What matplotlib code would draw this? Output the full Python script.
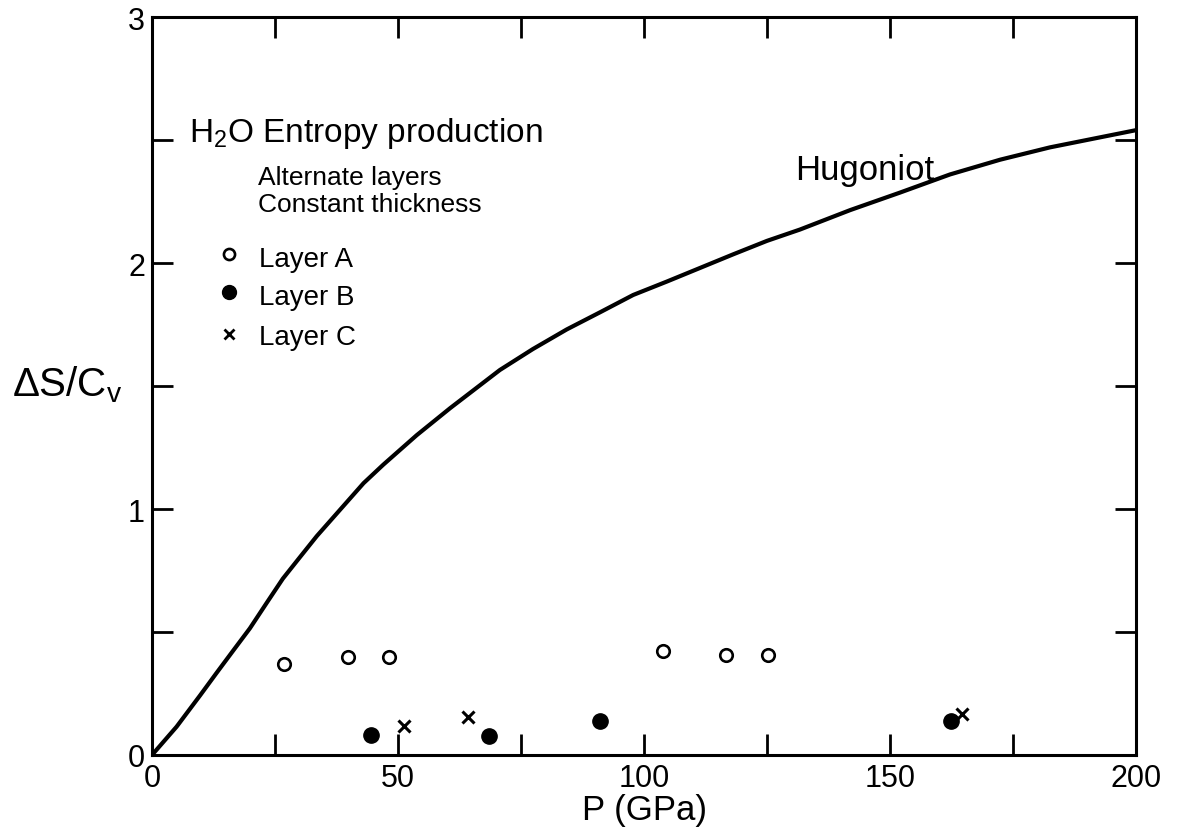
import matplotlib
matplotlib.use("Agg")
import matplotlib.pyplot as plt
from matplotlib.ticker import MultipleLocator

plt.rcParams['font.family'] = ['Liberation Sans', 'DejaVu Sans']
plt.rcParams['mathtext.default'] = 'regular'

# Hugoniot curve: entropy production vs. shock pressure
hug_P = [0, 5.0, 9.8, 13.1, 16.6, 19.9, 23.3, 26.6, 30.1, 33.5, 38.8, 43.0,
         47.0, 53.8, 60.6, 70.7, 77.4, 84.3, 91.1, 97.8, 104.7, 111.4, 118.1,
         125.0, 131.7, 141.9, 152.0, 162.2, 172.4, 182.5, 200.0]
hug_S = [0, 0.115, 0.243, 0.333, 0.427, 0.515, 0.618, 0.717, 0.805, 0.89,
         1.01, 1.105, 1.18, 1.30, 1.41, 1.565, 1.65, 1.73, 1.80, 1.87, 1.925,
         1.98, 2.035, 2.09, 2.136, 2.215, 2.286, 2.36, 2.42, 2.47, 2.54]

# Alternate layers, constant thickness
layerA_P = [26.8, 39.8, 48.2, 103.9, 116.7, 125.2]
layerA_S = [0.37, 0.40, 0.40, 0.424, 0.407, 0.407]

layerB_P = [44.5, 68.5, 91.1, 162.3]
layerB_S = [0.081, 0.077, 0.138, 0.14]

layerC_P = [51.2, 64.2, 164.6]
layerC_S = [0.118, 0.154, 0.167]

x_ticks = [0, 50, 100, 150, 200]
y_ticks = [0, 1, 2, 3]

fig = plt.figure(figsize=(11.84, 8.37), dpi=100)
ax = fig.add_axes([152 / 1184, 1 - 756 / 837, 984 / 1184, 738 / 837])

ax.plot(hug_P, hug_S, color='black', lw=3.0, solid_capstyle='round',
        solid_joinstyle='round')
ax.plot(layerA_P, layerA_S, 'o', ms=9, mfc='white', mec='black', mew=1.9, ls='none')
ax.plot(layerB_P, layerB_S, 'o', ms=11, mfc='black', mec='black', ls='none')
ax.plot(layerC_P, layerC_S, 'x', ms=8, mec='black', mew=2.2, ls='none')

ax.set_xlim(0, 200)
ax.set_ylim(0, 3)
ax.set_xticks(x_ticks)
ax.set_yticks(y_ticks)
ax.set_xticklabels([str(v) for v in x_ticks])
ax.set_yticklabels([str(v) for v in y_ticks])
ax.xaxis.set_minor_locator(MultipleLocator(25))
ax.yaxis.set_minor_locator(MultipleLocator(0.5))
ax.tick_params(which='both', direction='in', length=15, width=2,
               top=True, right=True, color='black')
ax.tick_params(axis='x', labelsize=22, pad=6)
ax.tick_params(axis='y', labelsize=22, pad=5)
for sp in ax.spines.values():
    sp.set_linewidth(2.2)

ax.set_xlabel('P (GPa)', fontsize=25, labelpad=0)
fig.text(12 / 1184, 1 - 385 / 837, r'ΔS/C$_v$', fontsize=29,
         ha='left', va='center')

# Annotations and key
ax.text(0.0376, 0.832, r'H$_2$O Entropy production', transform=ax.transAxes,
        fontsize=24, ha='left', va='baseline')
ax.text(0.1077, 0.7737, 'Alternate layers', transform=ax.transAxes,
        fontsize=19, ha='left', va='baseline')
ax.text(0.1077, 0.737, 'Constant thickness', transform=ax.transAxes,
        fontsize=19, ha='left', va='baseline')

key_x = 0.0783
ax.plot([key_x], [0.679], 'o', ms=8, mfc='white', mec='black', mew=1.9,
        transform=ax.transAxes, clip_on=False)
ax.plot([key_x], [0.627], 'o', ms=10, mfc='black', mec='black',
        transform=ax.transAxes, clip_on=False)
ax.plot([key_x], [0.570], 'x', ms=7, mec='black', mew=2.0,
        transform=ax.transAxes, clip_on=False)
ax.text(0.1087, 0.6626, 'Layer A', transform=ax.transAxes, fontsize=20,
        ha='left', va='baseline')
ax.text(0.1087, 0.611, 'Layer B', transform=ax.transAxes, fontsize=20,
        ha='left', va='baseline')
ax.text(0.1087, 0.557, 'Layer C', transform=ax.transAxes, fontsize=20,
        ha='left', va='baseline')

ax.text(0.6535, 0.7805, 'Hugoniot', transform=ax.transAxes, fontsize=25,
        ha='left', va='baseline')

fig.savefig('out.png', dpi=100, facecolor='white')
